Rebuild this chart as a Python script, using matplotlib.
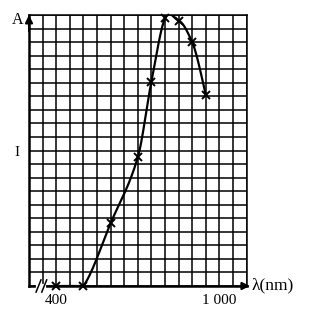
import numpy as np
import matplotlib
matplotlib.use("Agg")
import matplotlib.pyplot as plt

# ---- data ----
wavelength = [400, 500, 600, 700, 750, 800, 850, 900, 950]   # nm
intensity = [0.0, 0.0, 4.63, 9.5, 15.08, 19.76, 19.58, 17.99, 14.1]  # grid units
x_tick_vals = [400, 1000]
x_tick_labels = ["400", "1 000"]
y_tick_vals = [10]
y_tick_labels = ["I"]

SERIF = ["Liberation Serif", "DejaVu Serif"]

fig = plt.figure(figsize=(3.09, 3.19), dpi=100)
ax = fig.add_axes([29 / 309, 33 / 319, (246.6 - 29) / 309, (286 - 15) / 319])
ax.set_xlim(300, 1100)
ax.set_ylim(0, 20)

# grid
ax.set_xticks(np.arange(300, 1101, 50), minor=True)
ax.set_yticks(np.arange(0, 21, 1), minor=True)
ax.set_xticks(x_tick_vals)
ax.set_xticklabels(x_tick_labels, family=SERIF, fontsize=11)
ax.set_yticks(y_tick_vals)
ax.set_yticklabels(y_tick_labels, family=SERIF, fontsize=11)
ax.grid(which="both", color="black", linewidth=1.1)
ax.tick_params(which="both", length=0)
ax.tick_params(axis="x", pad=6)
ax.tick_params(axis="y", pad=6.5)
ax.set_axisbelow(True)
for s in ["top", "right"]:
    ax.spines[s].set_linewidth(1.1)
for s in ["left", "bottom"]:
    ax.spines[s].set_linewidth(1.8)

# smooth curve through the measured points (monotone-style cubic Hermite)
xs = np.array(wavelength, float)
ys = np.array(intensity, float)
sec = np.diff(ys) / np.diff(xs)
m = np.zeros_like(xs)
m[1] = sec[1] * 0.6
for i in range(2, len(xs) - 1):
    a, b = sec[i - 1], sec[i]
    if a * b > 0:
        m[i] = 2.0 / (1.0 / a + 1.0 / b)
    else:
        m[i] = 0.5 * (a + b)
m[-1] = sec[-1] * 1.1
cx, cy = [xs[0]], [ys[0]]
for i in range(1, len(xs) - 1):
    h = xs[i + 1] - xs[i]
    t = np.linspace(0, 1, 40)
    h00 = 2 * t**3 - 3 * t**2 + 1
    h10 = t**3 - 2 * t**2 + t
    h01 = -2 * t**3 + 3 * t**2
    h11 = t**3 - t**2
    cx.extend(xs[i] + t * h)
    cy.extend(h00 * ys[i] + h10 * h * m[i] + h01 * ys[i + 1] + h11 * h * m[i + 1])
ax.plot(cx, cy, color="black", linewidth=1.6, zorder=3)
ax.plot(xs, ys, linestyle="none", marker="x", markersize=5.5,
        markeredgewidth=1.4, color="black", zorder=4, clip_on=False)

# axis arrows
ax.annotate("", xy=(300, 20), xytext=(300, 18.8),
            arrowprops=dict(arrowstyle="-|>", color="black", lw=1.5,
                            mutation_scale=11, shrinkA=0, shrinkB=0),
            annotation_clip=False)
ax.annotate("", xy=(1112, 0), xytext=(1090, 0),
            arrowprops=dict(arrowstyle="-|>", color="black", lw=1.5,
                            mutation_scale=11, shrinkA=0, shrinkB=0),
            annotation_clip=False)

# axis labels
fig.text(18 / 309, 1 - 20 / 319, "A", family=SERIF, fontsize=11.5,
         ha="center", va="center")
fig.text(251 / 309, 1 - 285 / 319, "λ(nm)", family=SERIF, fontsize=12.5,
         ha="left", va="center")

# axis break marks (white gap + two slashes)
ax.plot([333, 356], [0, 0], color="white", lw=3, clip_on=False, zorder=4)
for cxm in (335, 356):
    ax.plot([cxm - 9, cxm + 9], [-0.45, 0.45], color="black", lw=1.1,
            clip_on=False, zorder=5)

fig.savefig("out.png", dpi=100)
